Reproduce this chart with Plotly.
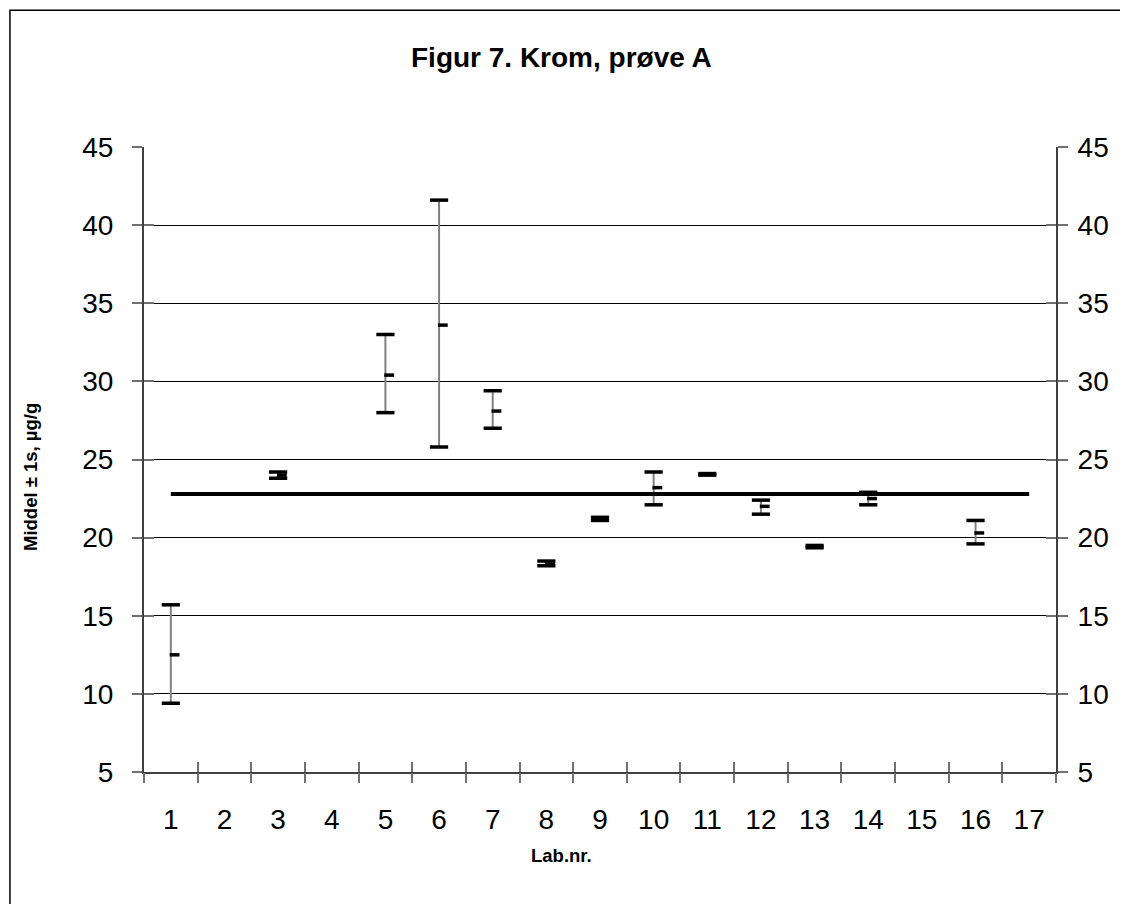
import plotly.graph_objects as go

# Lab results (middel +/- 1s)
labs = [1, 3, 5, 6, 7, 8, 9, 10, 11, 12, 13, 14, 16]
high = [15.7, 24.2, 33.0, 41.6, 29.4, 18.5, 21.3, 24.2, 24.1, 22.4, 19.5, 22.9, 21.1]
low = [9.4, 23.8, 28.0, 25.8, 27.0, 18.2, 21.1, 22.1, 24.0, 21.5, 19.35, 22.1, 19.6]
mean = [12.5, 24.0, 30.4, 33.6, 28.1, 18.3, 21.2, 23.2, 24.05, 22.0, 19.4, 22.5, 20.3]

categories = list(range(1, 18))
tick_labels = [str(c) for c in categories]
ref_value = 22.8
y_ticks = [5, 10, 15, 20, 25, 30, 35, 40, 45]

FONT = "Liberation Sans, Arial, sans-serif"
boundaries = [c - 0.5 for c in categories] + [categories[-1] + 0.5]

fig = go.Figure()

# vertical whiskers
wx, wy = [], []
for x, lo, hi in zip(labs, low, high):
    wx += [x, x, None]
    wy += [lo, hi, None]
fig.add_trace(go.Scatter(x=wx, y=wy, mode="lines",
                         line=dict(color="#808080", width=2),
                         showlegend=False, hoverinfo="skip"))

# reference line
fig.add_trace(go.Scatter(x=[categories[0], categories[-1]], y=[ref_value, ref_value],
                         mode="lines", line=dict(color="black", width=4),
                         showlegend=False, hoverinfo="skip"))

# high / low caps
cap = dict(symbol="line-ew", size=13, line=dict(color="black", width=3.5))
fig.add_trace(go.Scatter(x=labs, y=high, mode="markers", marker=cap, showlegend=False))
fig.add_trace(go.Scatter(x=labs, y=low, mode="markers", marker=cap, showlegend=False))

# mean tick pointing right
fig.add_trace(go.Scatter(x=[x + 0.07 for x in labs], y=mean, mode="markers",
                         marker=dict(symbol="line-ew", size=7,
                                     line=dict(color="black", width=3.5)),
                         showlegend=False))

# dummy traces so the helper axes get drawn
for xa, ya in [("x2", "y"), ("x3", "y"), ("x", "y2"), ("x", "y3"), ("x", "y4")]:
    fig.add_trace(go.Scatter(x=[None], y=[None], xaxis=xa, yaxis=ya,
                             showlegend=False, hoverinfo="skip"))

xr = [0.5, 17.5]
yr = [5, 45]
tickfont = dict(family=FONT, size=28, color="black")

fig.update_layout(
    width=1128, height=904,
    margin=dict(l=136, r=80, t=139, b=140),
    paper_bgcolor="white", plot_bgcolor="white",
    font=dict(family=FONT, color="black"),
    xaxis=dict(range=xr, tickvals=categories, ticktext=tick_labels,
               ticks="outside", ticklen=22, tickcolor="rgba(0,0,0,0)",
               tickfont=tickfont, showgrid=False, zeroline=False,
               showline=True, linecolor="#404040", linewidth=1.5),
    xaxis2=dict(range=xr, overlaying="x", side="bottom", anchor="y",
                tickvals=boundaries, ticks="outside", ticklen=10,
                tickcolor="#707070", tickwidth=1.5, showticklabels=False,
                showgrid=False, zeroline=False, showline=False),
    xaxis3=dict(range=xr, overlaying="x", side="bottom", anchor="y",
                tickvals=boundaries, ticks="inside", ticklen=10,
                tickcolor="#707070", tickwidth=1.5, showticklabels=False,
                showgrid=False, zeroline=False, showline=False),
    yaxis=dict(range=yr, tickvals=y_ticks, ticks="outside", ticklen=10,
               tickcolor="#707070", tickwidth=1.5, tickfont=tickfont,
               ticklabelstandoff=13,
               showgrid=True, gridcolor="black", gridwidth=1, zeroline=False,
               showline=True, linecolor="#404040", linewidth=2),
    yaxis2=dict(range=yr, tickvals=y_ticks, overlaying="y", side="right", anchor="x",
                ticks="outside", ticklen=10, tickcolor="#707070", tickwidth=1.5,
                tickfont=tickfont, ticklabelstandoff=4,
                showgrid=False, zeroline=False,
                showline=True, linecolor="#404040", linewidth=2),
    yaxis3=dict(range=yr, tickvals=y_ticks, overlaying="y", side="left", anchor="x",
                ticks="inside", ticklen=10, tickcolor="#707070", tickwidth=1.5,
                showticklabels=False, showgrid=False, zeroline=False, showline=False),
    yaxis4=dict(range=yr, tickvals=y_ticks, overlaying="y", side="right", anchor="x",
                ticks="inside", ticklen=10, tickcolor="#707070", tickwidth=1.5,
                showticklabels=False, showgrid=False, zeroline=False, showline=False),
    shapes=[dict(type="rect", xref="paper", yref="paper",
                 x0=-0.147, x1=1.2, y0=-0.3, y1=1.219,
                 line=dict(color="black", width=1.5))],
    annotations=[
        dict(text="<b>Figur 7. Krom, prøve A</b>", xref="paper", yref="paper",
             x=0.458, y=1.144, xanchor="center", yanchor="middle",
             showarrow=False, font=dict(size=28)),
        dict(text="<b>Middel ± 1s, µg/g</b>", xref="paper", yref="paper",
             x=-0.125, y=0.472, xanchor="center", yanchor="middle",
             textangle=-90, showarrow=False, font=dict(size=18.5)),
        dict(text="<b>Lab.nr.</b>", xref="paper", yref="paper",
             x=0.458, y=-0.133, xanchor="center", yanchor="middle",
             showarrow=False, font=dict(size=18.5)),
    ],
)

fig.write_html("out.html")
